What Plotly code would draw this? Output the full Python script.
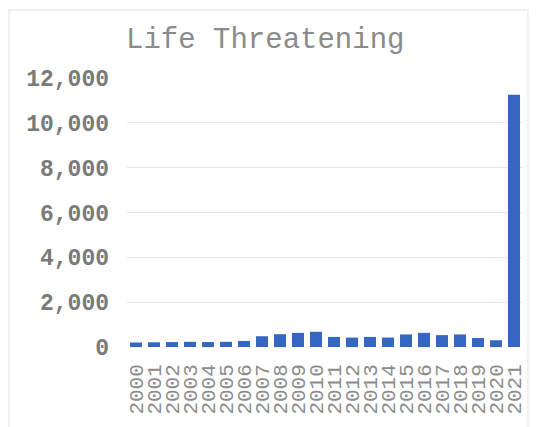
import plotly.graph_objects as go

years = [str(y) for y in range(2000, 2022)]
counts = [200, 210, 220, 230, 220, 230, 270, 480, 570, 630, 680, 450, 420, 450, 420, 560, 630, 530, 560, 400, 300, 11250]

title_text = "Life Threatening"
y_ticks = [0, 2000, 4000, 6000, 8000, 10000, 12000]
y_tick_labels = ["0", "2,000", "4,000", "6,000", "8,000", "10,000", "12,000"]

# page body has an 8px margin, so the figure is placed at (8, 8)
W, H = 531, 419
L, R, T, B = 119, 14, 70, 80
pw, ph = W - L - R, H - T - B

fig = go.Figure(go.Bar(x=years, y=counts, marker=dict(color="#3566c2", line=dict(width=0)),
                       hoverinfo="x+y"))

fig.update_layout(
    width=W, height=H,
    margin=dict(l=L, r=R, t=T, b=B),
    paper_bgcolor="white", plot_bgcolor="white",
    bargap=0.33,
    showlegend=False,
    font=dict(family="Liberation Mono, Courier New, monospace", color="#777"),
)
fig.update_xaxes(type="category", tickmode="array", tickvals=years, ticktext=years,
                 tickangle=-90, showgrid=False, showline=False, ticks="",
                 tickfont=dict(size=21, color="#8c8c8c"), ticklabelstandoff=12)
fig.update_yaxes(range=[0, 12000], tickvals=y_ticks, ticktext=y_tick_labels,
                 showgrid=True, gridcolor="#e8e8e8", gridwidth=1, zeroline=False, showline=False,
                 ticks="", tickfont=dict(size=23, color="#7a7a7a", weight="bold"), ticklabelstandoff=17)
fig.add_annotation(text=title_text, xref="paper", yref="paper", x=(258 - L) / pw,
                   y=1 + (T - 32) / ph, xanchor="center", yanchor="middle",
                   showarrow=False, font=dict(size=29, color="#8a8a8a",
                                              family="Liberation Mono, Courier New, monospace"))
fig.add_shape(type="rect", xref="paper", yref="paper",
              x0=-(L - 0.5) / pw, x1=1 + (522 - (W - R)) / pw,
              y0=-(B + 20) / ph, y1=1 + (T - 2) / ph,
              line=dict(color="#ececec", width=1.5), layer="below")

fig.write_html("out.html")
